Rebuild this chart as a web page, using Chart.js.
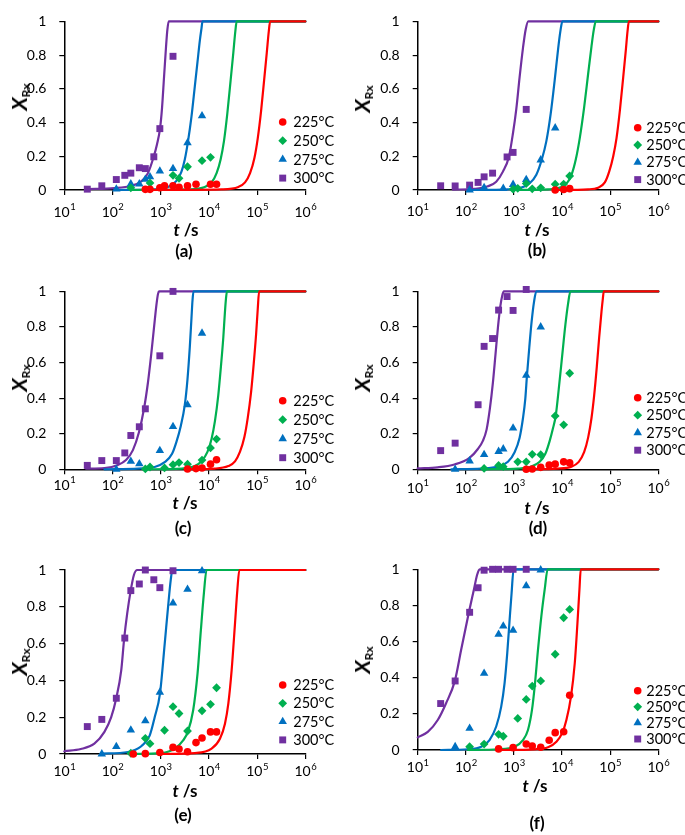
<!DOCTYPE html>
<html lang="en">
<head>
<meta charset="UTF-8">
<title>Recrystallised fraction vs time</title>
<style>
  body { margin: 0; background: #fff; font-family: Lato, "Liberation Sans", sans-serif; }
  #wrap { position: relative; width: 685px; height: 835px; overflow: hidden; }
  canvas { position: absolute; }
  .lbl { position: absolute; transform: translate(-50%, -50%); white-space: nowrap; font-weight: bold; color: #000; line-height: 1; }
  .xt { font-size: 17px; }
  .tag { font-size: 17px; }
  .yt { font-size: 21px; transform: translate(-50%, -50%) rotate(-90deg); }
  .yt sub { font-size: 12px; font-style: normal; vertical-align: -0.25em; }
</style>
</head>
<body>
<div id="wrap"></div>

<script src="https://cdn.jsdelivr.net/npm/chart.js"></script>
<script>
// ---- axis ticks / legend ----
const temps = ['225°C', '250°C', '275°C', '300°C'];
const xTicks = [10, 100, 1000, 10000, 100000, 1000000];
const xTickExps = ['1', '2', '3', '4', '5', '6'];
const yTicks = [0, 0.2, 0.4, 0.6, 0.8, 1];
const yTickLabels = ['0', '0.2', '0.4', '0.6', '0.8', '1'];
const yMinorTicks = [0.1, 0.3, 0.5, 0.7, 0.9];

// ---- (a) measured points [t (s), X] ----
const a225 = [[480,0.004],[600,0.004],[960,0.013],[1200,0.025],[1800,0.025],[2400,0.016],[3600,0.025],[5400,0.034],[10800,0.034],[14400,0.034]];
const a250 = [[240,0.013],[600,0.042],[1800,0.087],[2400,0.069],[3600,0.138],[7200,0.174],[10800,0.194]];
const a275 = [[120,0.005],[240,0.036],[360,0.036],[480,0.063],[600,0.078],[960,0.112],[1800,0.127],[3600,0.28],[7200,0.44]];
const a300 = [[30,0.005],[60,0.025],[120,0.062],[180,0.087],[240,0.10],[360,0.132],[480,0.127],[720,0.197],[960,0.364],[1800,0.793]];
// (a) fitted curves
const a225fit = [[480,0],[18360,0.004],[40840,0.018],[56230,0.045],[71450,0.10],[87990,0.19],[103300,0.308],[121200,0.471],[139900,0.652],[158900,0.815],[175000,0.942],[186700,1],[1000000,1]];
const a250fit = [[240,0],[3709,0.004],[8254,0.018],[11370,0.045],[14450,0.10],[17500,0.181],[20540,0.29],[24090,0.453],[28260,0.652],[32130,0.815],[35380,0.942],[37690,1],[1000000,1]];
const a275fit = [[119,0],[750,0.004],[1422,0.018],[2120,0.054],[2697,0.109],[3162,0.181],[3652,0.281],[4350,0.435],[5110,0.616],[5808,0.761],[6494,0.888],[7033,0.96],[7380,1],[1000000,1]];
const a300fit = [[29,0.005],[110,0.011],[245,0.025],[395,0.051],[544,0.10],[715,0.197],[839,0.272],[968,0.364],[1067,0.489],[1173,0.67],[1291,0.851],[1376,0.951],[1468,1],[1000000,1]];

// ---- (b) ----
const b225 = [[7200,0],[10800,0.003],[14400,0.008]];
const b250 = [[960,0.005],[1200,0.01],[1800,0.038],[2400,0.007],[3600,0.013],[7200,0.034],[10800,0.035],[14400,0.083]];
const b275 = [[120,0],[240,0.014],[600,0.009],[960,0.033],[1800,0.062],[3600,0.178],[7200,0.368]];
const b300 = [[30,0.025],[60,0.024],[120,0.029],[180,0.045],[240,0.078],[360,0.10],[720,0.196],[960,0.223],[1800,0.478]];
const b225fit = [[7033,0],[34810,0.004],[56230,0.014],[77430,0.045],[95330,0.109],[115500,0.199],[135500,0.308],[158900,0.471],[186700,0.67],[211900,0.833],[229500,0.942],[244900,1],[1000000,1]];
const b250fit = [[968,0],[5110,0.004],[9690,0.018],[12920,0.045],[15400,0.083],[19270,0.181],[23330,0.308],[28720,0.489],[34810,0.688],[40840,0.851],[45710,0.951],[50280,1],[1000000,1]];
const b275fit = [[119,0],[750,0.004],[1422,0.014],[2120,0.04],[2920,0.091],[3767,0.178],[4718,0.29],[5808,0.453],[7033,0.652],[8254,0.833],[9232,0.942],[10160,1],[1000000,1]];
const b300fit = [[54,0.002],[152,0.007],[287,0.022],[428,0.049],[590,0.109],[787,0.197],[953,0.335],[1119,0.48],[1312,0.67],[1540,0.842],[1750,0.951],[1990,1],[1000000,1]];

// ---- (c) ----
const c225 = [[3600,0.002],[5400,0.004],[7200,0.007],[10800,0.029],[14400,0.054]];
const c250 = [[480,0.002],[600,0.013],[1200,0.008],[1800,0.026],[2400,0.038],[3600,0.029],[7200,0.052],[10800,0.12],[14400,0.17]];
const c275 = [[120,0],[240,0.045],[360,0.031],[960,0.105],[1800,0.24],[3600,0.362],[7200,0.765]];
const c300 = [[30,0.022],[60,0.049],[120,0.049],[180,0.092],[240,0.19],[360,0.239],[480,0.34],[960,0.638],[1800,1.0]];
const c225fit = [[3162,0],[13340,0.004],[25290,0.018],[34810,0.045],[44250,0.099],[54490,0.181],[63960,0.289],[74990,0.434],[85290,0.597],[95330,0.759],[103300,0.904],[110100,1],[1000000,1]];
const c250fit = [[450,0],[2697,0.004],[5110,0.018],[7033,0.045],[9380,0.099],[11370,0.172],[13340,0.271],[15640,0.416],[17780,0.579],[19900,0.741],[21540,0.886],[22590,0.958],[23710,1],[1000000,1]];
const c275fit = [[68,0],[337,0.004],[750,0.013],[1212,0.04],[1722,0.087],[2120,0.154],[2610,0.244],[3162,0.362],[3594,0.506],[4015,0.687],[4350,0.85],[4568,0.949],[4794,1],[1000000,1]];
const c300fit = [[28,0.004],[68,0.007],[129,0.024],[193,0.054],[265,0.108],[354,0.208],[450,0.34],[544,0.488],[639,0.651],[726,0.796],[813,0.922],[880,0.986],[923,1],[1000000,1]];

// ---- (d) ----
const d225 = [[1800,0],[2400,0.002],[3600,0.011],[5400,0.024],[7200,0.029],[10800,0.042],[14400,0.036]];
const d250 = [[240,0.005],[480,0.022],[600,0.015],[1200,0.042],[1800,0.042],[2400,0.084],[3600,0.082],[7200,0.30],[10800,0.25],[14400,0.54]];
const d275 = [[60,0],[120,0.047],[240,0.083],[480,0.10],[600,0.114],[960,0.232],[1800,0.528],[3600,0.80]];
const d300 = [[30,0.105],[60,0.147],[180,0.363],[240,0.691],[360,0.735],[480,0.895],[720,0.971],[960,0.893],[1800,1.011]];
const d225fit = [[1722,0],[8254,0.004],[15640,0.015],[22230,0.042],[28720,0.096],[34810,0.178],[40840,0.287],[46420,0.414],[52760,0.577],[59010,0.74],[65990,0.886],[70340,0.958],[73770,1],[1000000,1]];
const d250fit = [[237,0],[1212,0.004],[2296,0.015],[3425,0.042],[4495,0.087],[5535,0.16],[6494,0.232],[7380,0.30],[8527,0.45],[10000,0.632],[11730,0.813],[13340,0.931],[14920,1],[1000000,1]];
const d275fit = [[50,0],[209,0.004],[464,0.015],[750,0.042],[1033,0.096],[1312,0.178],[1540,0.287],[1722,0.396],[1866,0.528],[2086,0.686],[2333,0.831],[2610,0.94],[2920,1],[1000000,1]];
const d300fit = [[10,0.005],[26,0.011],[58,0.027],[119,0.064],[178,0.114],[226,0.16],[270,0.223],[316,0.341],[365,0.486],[415,0.65],[464,0.795],[519,0.913],[571,0.976],[619,1],[1000000,1]];

// ---- (e) ----
const e225 = [[270,0],[480,0.002],[960,0.008],[1800,0.036],[2400,0.027],[3600,0.012],[5400,0.062],[7200,0.087],[10800,0.12],[14400,0.12]];
const e250 = [[240,0.004],[480,0.085],[600,0.056],[1200,0.129],[1800,0.257],[2400,0.22],[3600,0.125],[7200,0.235],[10800,0.27],[14400,0.36]];
const e275 = [[60,0],[120,0.04],[240,0.13],[480,0.18],[960,0.335],[1800,0.82],[3600,0.895],[7200,0.995]];
const e300 = [[30,0.149],[60,0.188],[120,0.303],[180,0.63],[240,0.888],[360,0.924],[480,1.0],[720,0.947],[960,0.904],[1800,0.996]];
const e225fit = [[1033,0],[5110,0.005],[11370,0.029],[16940,0.083],[21540,0.165],[25290,0.274],[29650,0.456],[34810,0.71],[38910,0.891],[42840,1],[1000000,1]];
const e250fit = [[245,0],[1033,0.005],[1957,0.029],[2920,0.074],[3652,0.12],[4718,0.238],[5808,0.437],[6813,0.673],[7870,0.873],[8940,1],[1000000,1]];
const e275fit = [[58,0.002],[209,0.011],[395,0.042],[590,0.10],[750,0.20],[968,0.33],[1212,0.60],[1422,0.80],[1616,0.946],[1750,1],[1000000,1]];
const e300fit = [[10,0.015],[22,0.027],[42,0.056],[68,0.12],[94,0.20],[119,0.30],[152,0.456],[175,0.63],[202,0.764],[237,0.884],[278,0.973],[326,1],[1000000,1]];

// ---- (f) ----
const f225 = [[480,0.006],[960,0.013],[1800,0.033],[2400,0.022],[3600,0.015],[5400,0.054],[7200,0.096],[10800,0.101],[14400,0.303]];
const f250 = [[120,0.018],[240,0.033],[480,0.087],[600,0.076],[1200,0.175],[1800,0.28],[2400,0.354],[3600,0.382],[7200,0.53],[10800,0.732],[14400,0.778]];
const f275 = [[60,0.018],[120,0.12],[240,0.424],[480,0.64],[600,0.686],[960,0.662],[1800,0.908],[3600,0.996]];
const f300 = [[30,0.257],[60,0.382],[120,0.762],[180,0.898],[240,0.995],[360,1.0],[480,1.0],[720,1.0],[960,1.0],[1800,1.0]];
const f225fit = [[464,0],[2697,0.004],[5110,0.015],[7625,0.046],[10000,0.092],[12310,0.166],[15400,0.30],[18360,0.48],[20850,0.70],[22960,0.887],[24490,1],[1000000,1]];
const f250fit = [[110,0],[464,0.004],[1033,0.018],[1540,0.055],[1957,0.111],[2371,0.222],[2697,0.351],[3162,0.555],[3709,0.739],[4350,0.887],[5020,1],[1000000,1]];
const f275fit = [[30.6,0],[110,0.004],[209,0.018],[311,0.055],[428,0.13],[544,0.24],[639,0.37],[726,0.536],[813,0.72],[894,0.869],[984,1],[1000000,1]];
const f300fit = [[10,0.07],[16.2,0.10],[26.1,0.166],[38.9,0.259],[59,0.381],[80,0.555],[115,0.758],[147,0.887],[172,0.97],[193,1],[1000000,1]];

// ---- look ----
const colors = ['#FF0000', '#00B050', '#0070C0', '#7030A0'];
const marks = [
  { style: 'circle', r: 3.8 },
  { style: 'rectRot', r: 4.4 },
  { style: 'triangle', r: 4.9 },
  { style: 'rect', r: 4.9 }
];
const FONT = 'Lato, "Liberation Sans", sans-serif';

// page layout of each panel (canvas box + plot area in page pixels)
const panels = [
  { tag: '(a)', box: [0, 0, 340, 268],   plot: [64.3, 6, 305.3, 190],
    pts: [a225, a250, a275, a300], fits: [a225fit, a250fit, a275fit, a300fit],
    tickDy: 22, legTop: -68, legStep: 18.7, legMx: -22.6, yLab: [20, 97], xTitle: [186, 229], tagPos: [184, 250] },
  { tag: '(b)', box: [340, 0, 345, 268], plot: [417.7, 6, 658.3, 190],
    pts: [b225, b250, b275, b300], fits: [b225fit, b250fit, b275fit, b300fit],
    tickDy: 21.7, legTop: -62.3, legStep: 17.3, legMx: -20.6, yLab: [363, 99], xTitle: [537, 229], tagPos: [537, 249] },
  { tag: '(c)', box: [0, 270, 340, 275], plot: [64.3, 286, 305.3, 469.3],
    pts: [c225, c250, c275, c300], fits: [c225fit, c250fit, c275fit, c300fit],
    tickDy: 15.7, legTop: -68.6, legStep: 19, legMx: -22.6, yLab: [20, 378], xTitle: [185, 502], tagPos: [183, 527] },
  { tag: '(d)', box: [340, 270, 345, 275], plot: [417.7, 286, 658.3, 469.3],
    pts: [d225, d250, d275, d300], fits: [d225fit, d250fit, d275fit, d300fit],
    tickDy: 19, legTop: -71.6, legStep: 17.5, legMx: -20.6, yLab: [363, 378], xTitle: [537, 507], tagPos: [538, 527] },
  { tag: '(e)', box: [0, 545, 340, 290], plot: [64.3, 570, 305.3, 754],
    pts: [e225, e250, e275, e300], fits: [e225fit, e250fit, e275fit, e300fit],
    tickDy: 17.7, legTop: -69, legStep: 18.3, legMx: -22.6, yLab: [20, 662], xTitle: [185, 790], tagPos: [183, 814] },
  { tag: '(f)', box: [340, 545, 345, 290], plot: [417.7, 569.3, 658.3, 750],
    pts: [f225, f250, f275, f300], fits: [f225fit, f250fit, f275fit, f300fit],
    tickDy: 17.7, legTop: -59.3, legStep: 16.1, legMx: -20.6, yLab: [363, 660], xTitle: [535, 785], tagPos: [537, 822] }
];

const wrap = document.getElementById('wrap');

function addLabel(cls, pos, html) {
  const d = document.createElement('div');
  d.className = 'lbl ' + cls;
  d.style.left = pos[0] + 'px';
  d.style.top = pos[1] + 'px';
  d.innerHTML = html;
  wrap.appendChild(d);
}

// superscript x tick labels + the small legend inside the plot
const decor = {
  id: 'decor',
  afterDraw(chart, args, o) {
    const ctx = chart.ctx, xs = chart.scales.x, ca = chart.chartArea;
    ctx.save();
    ctx.fillStyle = '#000';
    ctx.textBaseline = 'middle';
    ctx.textAlign = 'left';
    xTicks.forEach((v, i) => {
      const px = xs.getPixelForValue(v);
      ctx.font = '14px ' + FONT;
      const w1 = ctx.measureText('10').width;
      ctx.font = '9.5px ' + FONT;
      const w2 = ctx.measureText(xTickExps[i]).width;
      const x0 = px - (w1 + w2) / 2;
      const y0 = ca.bottom + o.tickDy;
      ctx.font = '14px ' + FONT;
      ctx.fillText('10', x0, y0);
      ctx.font = '9.5px ' + FONT;
      ctx.fillText(xTickExps[i], x0 + w1 + 0.5, y0 - 5);
    });
    ctx.font = '14.5px ' + FONT;
    temps.forEach((t, i) => {
      const y = ca.bottom + o.legTop + i * o.legStep;
      ctx.fillStyle = colors[i];
      Chart.helpers.drawPoint(ctx, { pointStyle: marks[i].style, radius: marks[i].r, rotation: 0, borderWidth: 0 }, ca.right + o.legMx, y);
      ctx.fillStyle = '#000';
      ctx.fillText(t, ca.right - 12, y + 0.5);
    });
    ctx.restore();
  }
};

panels.forEach(p => {
  const [bx, by, bw, bh] = p.box;
  const L = p.plot[0] - bx, T = p.plot[1] - by, R = p.plot[2] - bx, B = p.plot[3] - by;
  const cv = document.createElement('canvas');
  cv.width = bw; cv.height = bh;
  cv.style.left = bx + 'px'; cv.style.top = by + 'px';
  wrap.appendChild(cv);

  const datasets = [];
  temps.forEach((t, i) => {
    datasets.push({
      label: t,
      data: p.pts[i].map(([x, y]) => ({ x, y })),
      pointStyle: marks[i].style, pointRadius: marks[i].r,
      backgroundColor: colors[i], borderColor: colors[i], borderWidth: 0,
      showLine: false, clip: false, order: 1
    });
  });
  temps.forEach((t, i) => {
    datasets.push({
      label: t + ' fit',
      data: p.fits[i].map(([x, y]) => ({ x, y })),
      showLine: true, pointRadius: 0, borderColor: colors[i], borderWidth: 2.2,
      cubicInterpolationMode: 'monotone', borderJoinStyle: 'round', borderCapStyle: 'round',
      fill: false, clip: false, order: 2
    });
  });

  new Chart(cv, {
    type: 'scatter',
    data: { datasets },
    options: {
      responsive: false,
      animation: false,
      events: [],
      layout: { autoPadding: false, padding: { left: 0, top: T, right: bw - R, bottom: 0 } },
      plugins: {
        legend: { display: false },
        tooltip: { enabled: false },
        decor: { tickDy: p.tickDy, legTop: p.legTop, legStep: p.legStep, legMx: p.legMx }
      },
      scales: {
        x: {
          type: 'logarithmic', min: 10, max: 1000000,
          afterBuildTicks: s => { s.ticks = xTicks.map(v => ({ value: v })); },
          afterFit: s => { s.height = bh - B; },
          ticks: { display: false },
          grid: { drawOnChartArea: false, drawTicks: true, tickLength: 5, color: '#000', lineWidth: 1.2 },
          border: { display: true, color: '#000', width: 1.5 }
        },
        y: {
          min: 0, max: 1,
          afterBuildTicks: s => { s.ticks = yTicks.concat(yMinorTicks).sort((a, b) => a - b).map(v => ({ value: v })); },
          afterFit: s => { s.width = L; },
          ticks: {
            padding: 13, color: '#000', font: { family: FONT, size: 14 },
            callback: v => {
              const k = yTicks.findIndex(t => Math.abs(t - v) < 1e-6);
              return k < 0 ? '' : yTickLabels[k];
            }
          },
          grid: { drawOnChartArea: false, drawTicks: true, tickLength: 5, color: '#000', lineWidth: 1.2 },
          border: { display: true, color: '#000', width: 1.5 }
        }
      }
    },
    plugins: [decor]
  });

  addLabel('yt', p.yLab, '<i>X</i><sub>Rx</sub>');
  addLabel('xt', p.xTitle, '<i>t</i> /s');
  addLabel('tag', p.tagPos, p.tag);
});
</script>
</body>
</html>
